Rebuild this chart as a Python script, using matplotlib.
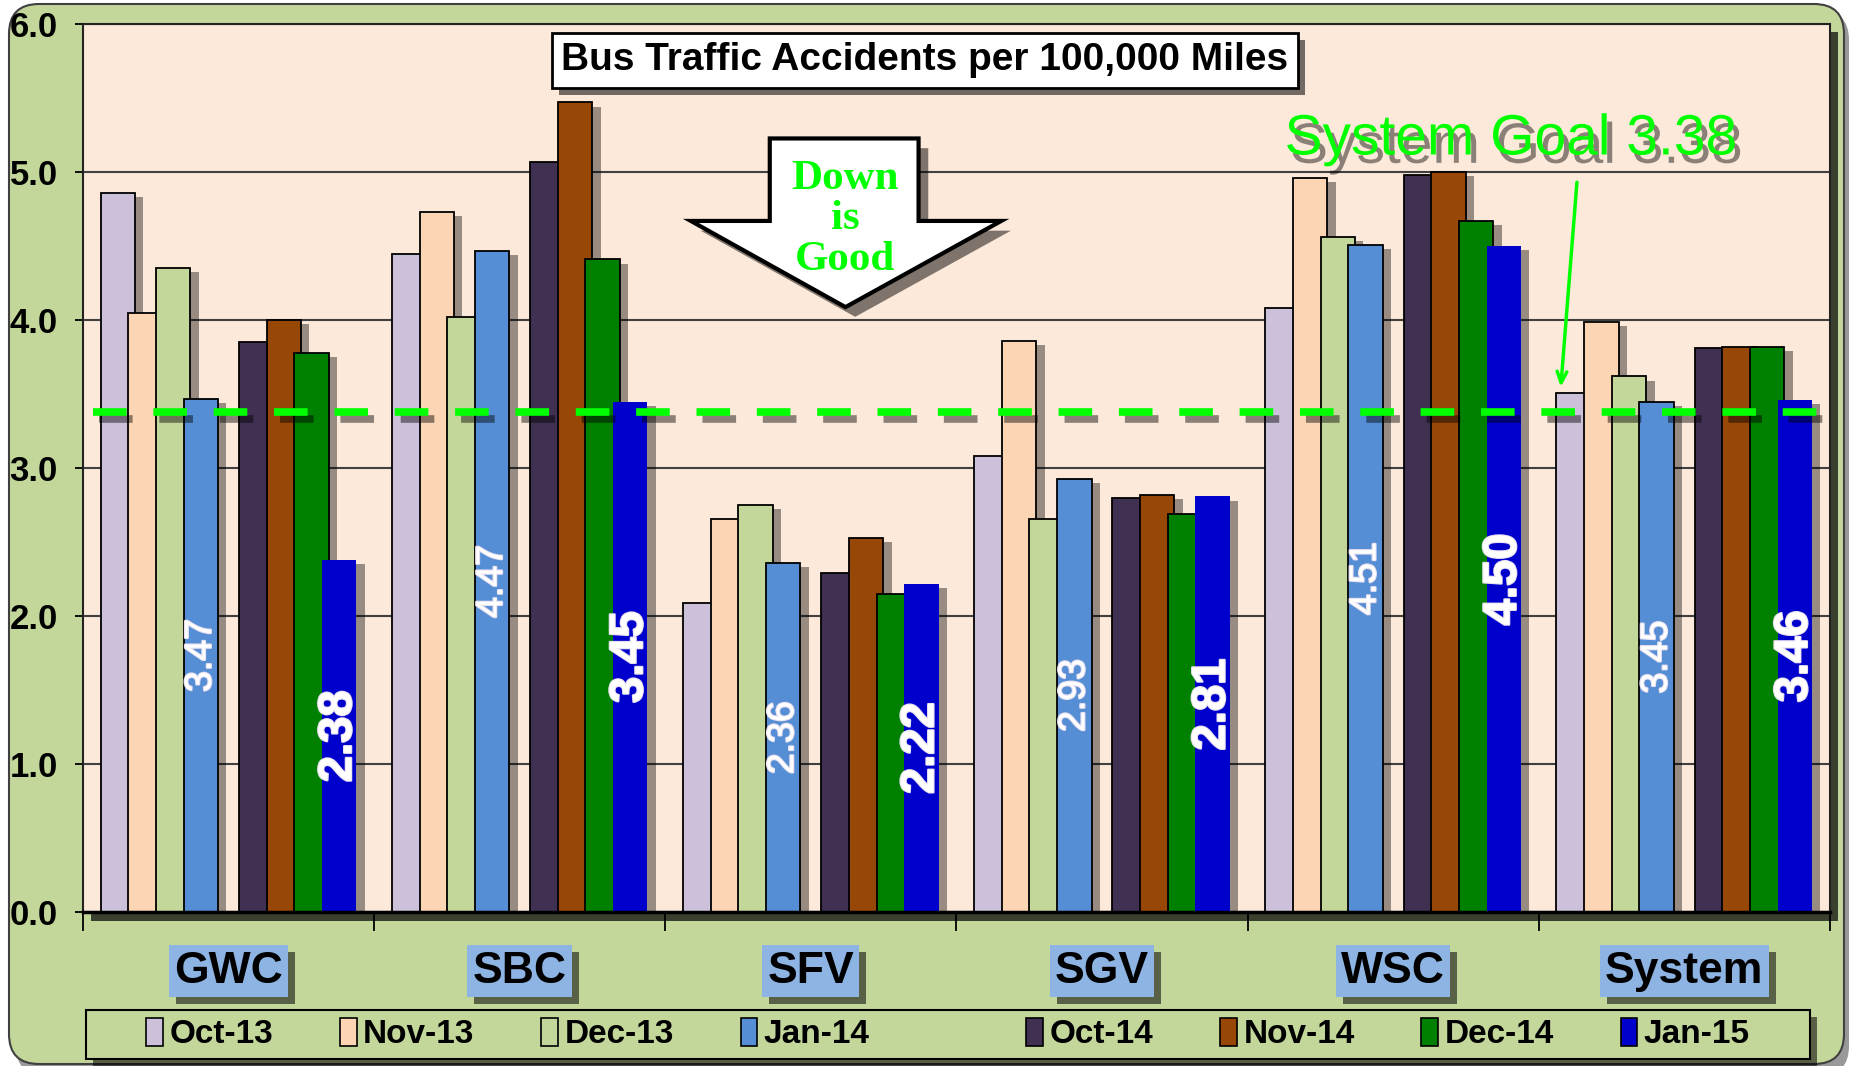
import numpy as np
import matplotlib
matplotlib.use('Agg')
import matplotlib.pyplot as plt
import matplotlib.patheffects as pe
import matplotlib.transforms as mtransforms
from matplotlib.patches import FancyBboxPatch, Polygon, Patch, Rectangle

SANS = 'Liberation Sans'

categories = ['GWC', 'SBC', 'SFV', 'SGV', 'WSC', 'System']
months = ['Oct-13', 'Nov-13', 'Dec-13', 'Jan-14', 'Oct-14', 'Nov-14', 'Dec-14', 'Jan-15']
oct13 = [4.86, 4.45, 2.09, 3.08, 4.08, 3.51]
nov13 = [4.05, 4.73, 2.66, 3.86, 4.96, 3.99]
dec13 = [4.35, 4.02, 2.75, 2.66, 4.56, 3.62]
jan14 = [3.47, 4.47, 2.36, 2.93, 4.51, 3.45]
oct14 = [3.85, 5.07, 2.29, 2.80, 4.98, 3.81]
nov14 = [4.00, 5.47, 2.53, 2.82, 5.00, 3.82]
dec14 = [3.78, 4.41, 2.15, 2.69, 4.67, 3.82]
jan15 = [2.38, 3.45, 2.22, 2.81, 4.50, 3.46]
series = [oct13, nov13, dec13, jan14, oct14, nov14, dec14, jan15]
goal = 3.38

colors = ['#CCC0DA', '#FCD5B4', '#C4D79B', '#558ED5', '#403152', '#974706', '#008000', '#0000CC']
edges = ['black'] * 7 + ['none']
slots = [0, 1, 2, 3, 5, 6, 7, 8]   # slot 4 is the empty spacer series

PANEL = '#C4D79B'
PLOTBG = '#FDE9D9'
LABELBOX = '#8DB4E2'
LIME = '#00FF00'

fig = plt.figure(figsize=(18.51, 10.66), dpi=100)
fig.patch.set_facecolor('white')

# rounded green chart panel with a shadow
shadow_panel = FancyBboxPatch((0.16, -0.1), 18.33, 10.66, boxstyle='round,pad=0,rounding_size=0.3',
                              transform=fig.dpi_scale_trans, facecolor='#555555', edgecolor='none',
                              alpha=0.6, zorder=-3)
panel = FancyBboxPatch((0.09, 0.02), 18.35, 10.6, boxstyle='round,pad=0,rounding_size=0.3',
                       transform=fig.dpi_scale_trans, facecolor=PANEL, edgecolor='#404040',
                       linewidth=1.5, zorder=-2)
fig.add_artist(shadow_panel)
fig.add_artist(panel)

ax = fig.add_axes([0.0448, 0.144, 0.9438, 0.8335])
ax.set_facecolor(PLOTBG)
ax.patch.set_path_effects([pe.SimplePatchShadow(offset=(6, -6), shadow_rgbFace='black', alpha=0.7), pe.Normal()])

step = 0.095
width = 0.118
x = np.arange(len(categories))
bar_shadow = [pe.SimplePatchShadow(offset=(6, -3), shadow_rgbFace='black', alpha=0.4), pe.Normal()]
for vals, col, ec, slot in zip(series, colors, edges, slots):
    pos = x + 0.5 + (slot - 4) * step
    bars = ax.bar(pos, vals, width=width, color=col, edgecolor=ec, linewidth=1.3, zorder=2)
    for b in bars:
        b.set_path_effects(bar_shadow)

# value labels on the January bars
for vals, slot, size, weight in [(jan14, 3, 27, 'normal'), (jan15, 8, 34, 'bold')]:
    pos = x + 0.5 + (slot - 4) * step
    for px, v in zip(pos, vals):
        ax.text(px, v / 2, f'{v:.2f}', rotation=90, ha='center', va='center', color='white',
                fontsize=size, fontweight=weight, family=SANS, zorder=4,
                path_effects=[pe.withStroke(linewidth=1.6, foreground='#E8E0F0')])

# goal line
ax.axhline(goal, xmin=0.006, xmax=1, color=LIME, linewidth=5.5, dashes=(4.4, 3.5), zorder=3,
           path_effects=[pe.SimpleLineShadow(offset=(4, -5), shadow_color='black', alpha=0.45), pe.Normal()])

ax.set_xlim(0, 6)
ax.set_ylim(0, 6)
ax.set_yticks(np.arange(0, 7))
ax.set_yticklabels([f'{v:.1f}' for v in range(7)])
ax.yaxis.grid(True, color='#404040', linewidth=1.5, zorder=0)
ax.set_axisbelow(True)
ax.tick_params(axis='y', length=6, width=1.3, pad=12, labelsize=25)
for lab in ax.get_yticklabels():
    lab.set_family(SANS)
    lab.set_fontweight('bold')
ax.set_xticks(np.arange(0, 7))
ax.set_xticklabels([])
ax.tick_params(axis='x', length=14, width=1.3)
for sp in ['left', 'top', 'right']:
    ax.spines[sp].set_color('#222222')
    ax.spines[sp].set_linewidth(1.5)
ax.spines['bottom'].set_linewidth(2.5)

box_shadow = [pe.SimplePatchShadow(offset=(5, -5), shadow_rgbFace='black', alpha=0.55), pe.Normal()]

# category labels with blue boxes
label_trans = mtransforms.blended_transform_factory(ax.transData, ax.transAxes)
for i, cat in enumerate(categories):
    t = ax.text(i + 0.5, -0.066, cat, transform=label_trans, ha='center', va='center', fontsize=32,
                family=SANS, fontweight='bold', color='black', zorder=6,
                bbox=dict(boxstyle='square,pad=0.12', facecolor=LABELBOX, edgecolor='none'))
    t.get_bbox_patch().set_path_effects(box_shadow)

# title box
t = ax.text(0.482, 0.959, 'Bus Traffic Accidents per 100,000 Miles', transform=ax.transAxes,
            ha='center', va='center', fontsize=28, family=SANS, fontweight='bold', color='black', zorder=6,
            bbox=dict(boxstyle='square,pad=0.25', facecolor='white', edgecolor='black', linewidth=2))
t.get_bbox_patch().set_path_effects(box_shadow)

# "Down is Good" arrow
arrow_x = 2.619
arrow = Polygon([[arrow_x - 0.26, 5.227], [arrow_x + 0.251, 5.227], [arrow_x + 0.251, 4.67],
                 [arrow_x + 0.535, 4.67], [arrow_x, 4.088], [arrow_x - 0.531, 4.67],
                 [arrow_x - 0.26, 4.67]], closed=True, facecolor='white', edgecolor='black',
                linewidth=3, zorder=5,
                path_effects=[pe.SimplePatchShadow(offset=(7, -7), shadow_rgbFace='black', alpha=0.5), pe.Normal()])
ax.add_patch(arrow)
ax.text(arrow_x, 4.68, 'Down\nis\nGood', ha='center', va='center', color=LIME, fontsize=31,
        fontweight='bold', family='Liberation Serif', linespacing=1.08, zorder=6)

# goal annotation
ax.annotate('', xy=(5.075, 3.53), xytext=(5.132, 4.95),
            arrowprops=dict(arrowstyle='->,head_length=0.8,head_width=0.35', color=LIME, lw=2.5),
            zorder=6)
ax.text(4.905, 5.22, 'System Goal 3.38', ha='center', va='center', color=LIME, fontsize=41,
        family=SANS, zorder=6,
        path_effects=[pe.SimplePatchShadow(offset=(4, -6), shadow_rgbFace='black', alpha=0.45), pe.Normal()])

# legend frame drawn separately so it can be wider than its entries
leg_box = Rectangle((86 / 1851, 1 - 1059 / 1066), (1810 - 86) / 1851, (1059 - 1010) / 1066,
                    transform=fig.transFigure, facecolor=PANEL, edgecolor='black', linewidth=1.5, zorder=-1,
                    path_effects=[pe.SimplePatchShadow(offset=(5, -5), shadow_rgbFace='black', alpha=0.55), pe.Normal()])
fig.add_artist(leg_box)

handles = [Patch(facecolor=c, edgecolor='black', linewidth=1.2) for c in colors]
labels = list(months)
handles.insert(4, Patch(facecolor='none', edgecolor='none'))
labels.insert(4, '')
leg = ax.legend(handles, labels, ncol=9, loc='center',
                bbox_to_anchor=((86 + 1810) / 2 / 1851, 1 - 1034 / 1066),
                bbox_transform=fig.transFigure, frameon=False, handlelength=0.5,
                handleheight=0.95, handletextpad=0.2, columnspacing=2.0, borderaxespad=0, borderpad=0,
                prop=dict(family=SANS, weight='bold', size=24))

fig.savefig('out.png', dpi=100)
